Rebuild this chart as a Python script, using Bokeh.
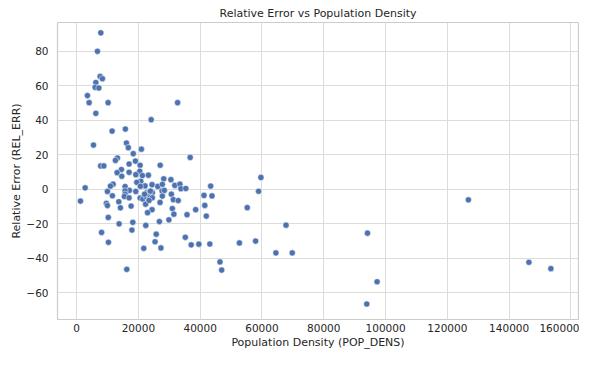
from bokeh.plotting import figure
from bokeh.models import Range1d, FixedTicker, ColumnDataSource
from bokeh.embed import file_html
from bokeh.resources import INLINE

# Data
pop_dens = [
    7850, 6760, 7630, 8370, 6240, 6010, 7210, 3520, 4070, 10210,
    32700, 6240, 24150, 15800, 11500, 5470, 16140, 16750, 20980, 18350,
    36770, 13230, 12580, 19040, 17000, 20560, 27070, 7800, 8820, 14510,
    20450, 13120, 17000, 19170, 21300, 23240, 14640, 28210, 30530, 20780,
    19490, 11830, 10960, 15710, 22170, 24430, 26300, 27760, 31800, 33450,
    33760, 35350, 2780, 17100, 15700, 9990, 19170, 22820, 23370, 24530,
    27670, 28410, 30670, 11600, 15710, 15480, 17000, 20560, 21430, 22490,
    23370, 23880, 24530, 27760, 1260, 9660, 9990, 13670, 22350, 23460,
    27020, 31320, 32900, 14190, 17650, 24430, 22970, 31000, 31490, 35750,
    38550, 41500, 41990, 41240, 43830, 43400, 59660, 58910, 55240, 10260,
    18200, 22400, 26800, 29880, 13770, 17920, 8100, 25780, 25400, 27300,
    21750, 10310, 35200, 37090, 39580, 43130, 52700, 57950, 67790, 64510,
    69800, 46410, 46960, 16250, 94150, 97260, 93920, 126800, 146400, 153500,
    22000, 20650, 23900,
]
rel_err = [
    90.8, 80.1, 65.5, 64.2, 62.0, 59.2, 58.8, 54.4, 50.3, 50.3,
    50.3, 44.1, 40.4, 35.0, 33.8, 25.7, 26.9, 24.2, 23.3, 20.7,
    18.5, 18.2, 16.8, 16.4, 14.7, 14.0, 14.0, 13.6, 13.6, 11.5,
    10.5, 9.7, 9.9, 8.5, 8.0, 8.2, 7.6, 6.1, 5.6, 4.7,
    4.1, 3.0, 1.9, 1.6, 2.0, 2.7, 1.7, 2.9, 2.3, 3.0,
    0.4, 0.5, 0.9, -0.6, -0.9, -1.2, -1.2, -1.7, -1.9, -1.9,
    -0.9, -0.6, -2.8, -3.7, -2.8, -4.1, -4.9, -5.0, -5.6, -4.1,
    -3.4, -4.7, -4.9, -3.9, -6.8, -8.1, -9.4, -7.2, -8.6, -6.4,
    -7.6, -6.0, -6.5, -10.7, -9.7, -11.8, -13.5, -11.1, -14.4, -14.7,
    -11.8, -9.3, -15.5, -3.5, -3.8, 1.9, 6.9, -1.1, -10.6, -16.3,
    -19.1, -20.9, -18.7, -17.7, -20.0, -23.6, -25.0, -26.0, -30.4, -34.0,
    -34.2, -30.7, -27.8, -32.2, -31.8, -31.7, -31.1, -30.0, -20.8, -36.9,
    -36.9, -42.1, -46.8, -46.4, -25.4, -53.6, -66.5, -6.1, -42.3, -46.0,
    -2.8, 1.8, -1.0,
]

x_ticks = [0, 20000, 40000, 60000, 80000, 100000, 120000, 140000, 160000]
x_tick_labels = ["0", "20000", "40000", "60000", "80000", "100000", "120000", "140000", "160000"]
y_ticks = [-60, -40, -20, 0, 20, 40, 60, 80]
y_tick_labels = ["\u221260", "\u221240", "\u221220", "0", "20", "40", "60", "80"]

FONT = "DejaVu Sans"
TEXT = "#262626"
GRID = "#dcdcdc"

src = ColumnDataSource(dict(x=pop_dens, y=rel_err))

p = figure(
    width=579, height=351,
    output_backend="svg", toolbar_location=None,
    x_range=Range1d(-6170, 162440), y_range=Range1d(-75.5, 96.8),
    title="Relative Error vs Population Density",
    min_border_left=57, min_border_right=1,
    min_border_top=22, min_border_bottom=30,
    background_fill_color="white", border_fill_color="white",
)

p.title.text_font = FONT
p.title.text_font_size = "11px"
p.title.text_font_style = "normal"
p.title.text_color = TEXT
p.title.align = "center"
p.title.standoff = 6

p.outline_line_color = "#cccccc"
p.outline_line_width = 1.2

p.xaxis.ticker = FixedTicker(ticks=x_ticks)
p.yaxis.ticker = FixedTicker(ticks=y_ticks)
p.xaxis.major_label_overrides = {t: l for t, l in zip(x_ticks, x_tick_labels)}
p.yaxis.major_label_overrides = {t: l for t, l in zip(y_ticks, y_tick_labels)}

for ax in (p.xaxis, p.yaxis):
    ax.axis_line_color = None
    ax.major_tick_line_color = None
    ax.minor_tick_line_color = None
    ax.major_tick_out = 0
    ax.major_tick_in = 0
    ax.major_label_text_font = FONT
    ax.major_label_text_font_size = "10.5px"
    ax.major_label_text_color = TEXT
    ax.axis_label_text_font = FONT
    ax.axis_label_text_font_size = "11px"
    ax.axis_label_text_font_style = "normal"
    ax.axis_label_text_color = TEXT

p.xaxis.axis_label = "Population Density (POP_DENS)"
p.yaxis.axis_label = "Relative Error (REL_ERR)"
p.xaxis.major_label_standoff = 4
p.yaxis.major_label_standoff = 9
p.xaxis.axis_label_standoff = 1
p.yaxis.axis_label_standoff = 0

p.xgrid.grid_line_color = GRID
p.ygrid.grid_line_color = GRID
p.xgrid.grid_line_width = 1
p.ygrid.grid_line_width = 1

p.scatter("x", "y", source=src, size=6.2, fill_color="#4c72b0",
          line_color="white", line_width=0.5)

open("out.html", "w").write(file_html(p, INLINE))
